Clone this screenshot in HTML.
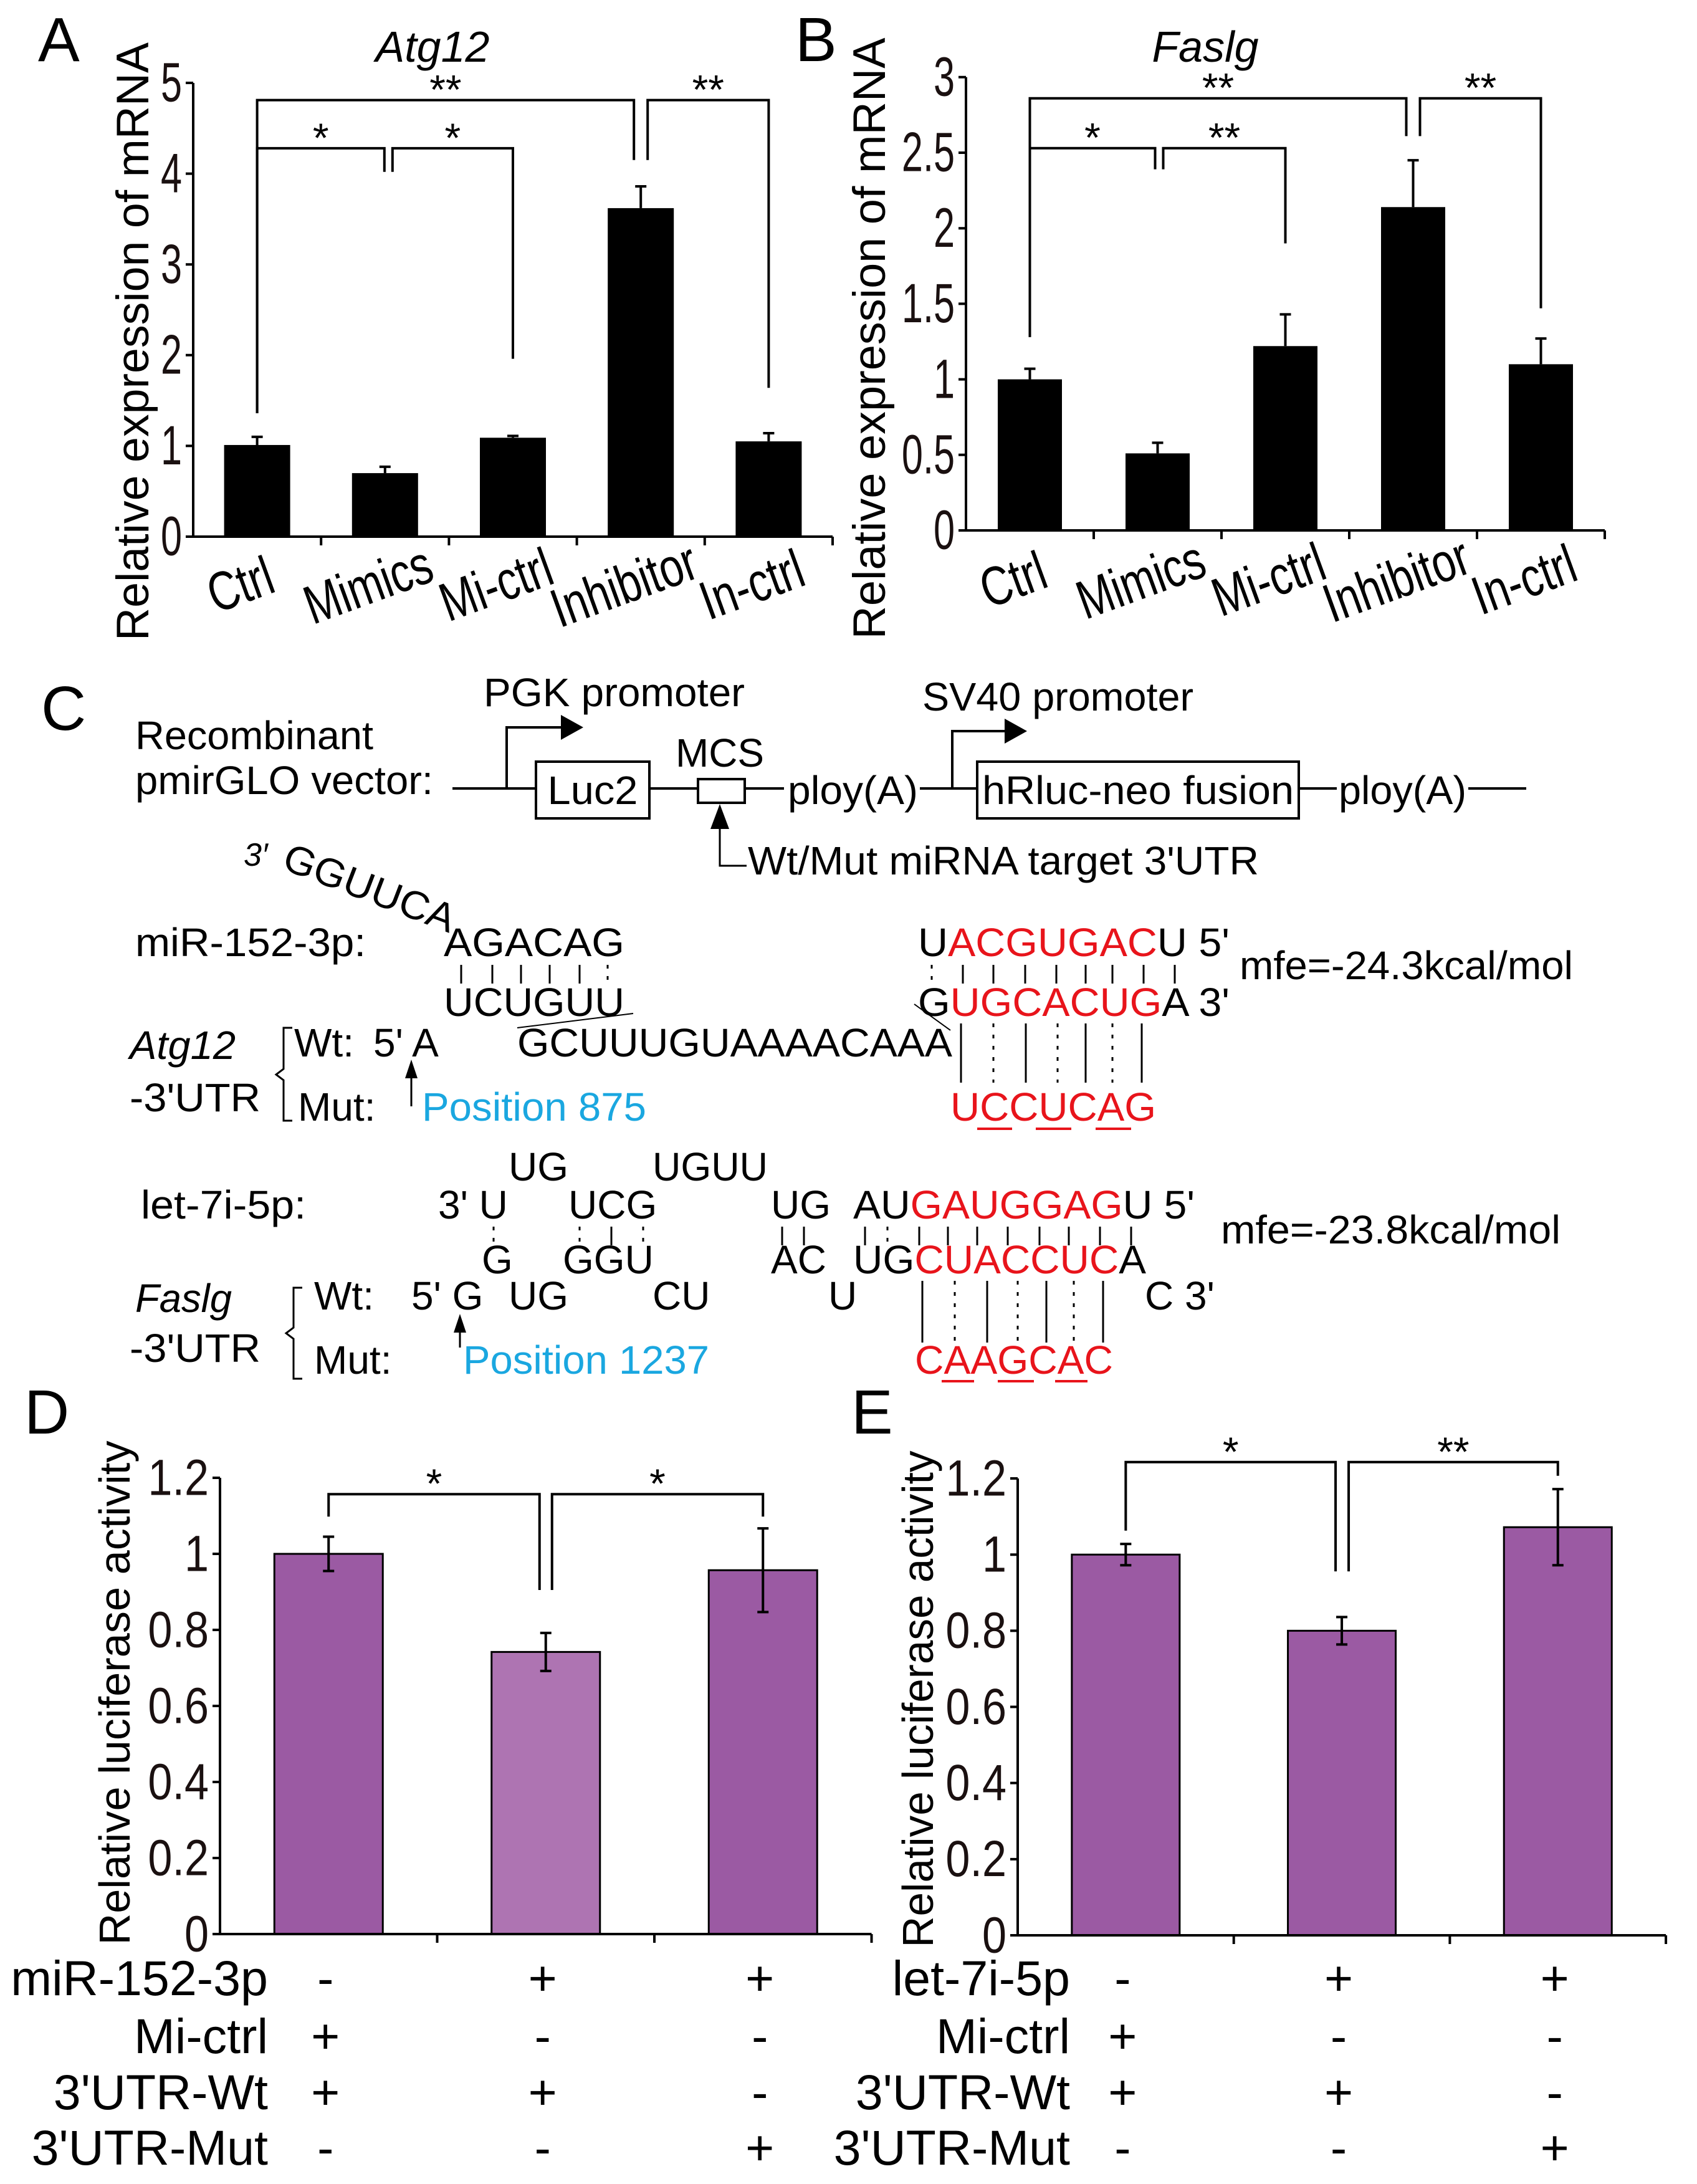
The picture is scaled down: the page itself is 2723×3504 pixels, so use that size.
<!DOCTYPE html>
<html><head><meta charset="utf-8"><style>
html,body{margin:0;padding:0;background:#fff}
svg{display:block;font-family:"Liberation Sans",Arial,sans-serif}
</style></head><body>
<svg id="fig" xmlns="http://www.w3.org/2000/svg" width="2723" height="3504" viewBox="0 0 2723 3504">
<rect width="2723" height="3504" fill="#fff"/>
<text x="61" y="98" font-size="100">A</text>
<text x="1276" y="98" font-size="100">B</text>
<text x="66" y="1171" font-size="100">C</text>
<text x="39" y="2300" font-size="100">D</text>
<text x="1366" y="2300" font-size="100">E</text>
<text x="694" y="99" font-size="70" font-style="italic" text-anchor="middle">Atg12</text>
<text x="1934" y="99" font-size="70" font-style="italic" text-anchor="middle">Faslg</text>
<text transform="translate(238,548) rotate(-90)" font-size="73" text-anchor="middle" textLength="960" lengthAdjust="spacingAndGlyphs">Relative expression of mRNA</text>
<text transform="translate(1420,543) rotate(-90)" font-size="73" text-anchor="middle" textLength="965" lengthAdjust="spacingAndGlyphs">Relative expression of mRNA</text>
<text transform="translate(208,2716) rotate(-90)" font-size="70" text-anchor="middle" textLength="809" lengthAdjust="spacingAndGlyphs">Relative luciferase activity</text>
<text transform="translate(1497,2726) rotate(-90)" font-size="70" text-anchor="middle" textLength="797" lengthAdjust="spacingAndGlyphs">Relative luciferase activity</text>

<g font-size="64" fill="#000">
<text x="217" y="1202" textLength="382" lengthAdjust="spacingAndGlyphs">Recombinant</text>
<text x="217" y="1274" textLength="478" lengthAdjust="spacingAndGlyphs">pmirGLO vector:</text>
<g stroke="#000" stroke-width="4" fill="none">
<path d="M726 1265H860M1042 1265H1120M1195 1265H1258M1476 1265H1568M2084 1265H2145M2356 1265H2449"/>
<rect x="860" y="1222" width="182" height="91"/>
<rect x="1120" y="1250" width="75" height="38"/>
<rect x="1568" y="1222" width="516" height="91"/>
<path d="M813 1265V1167H905"/>
<path d="M1528 1265V1173H1617"/>
<path d="M1155 1320V1389H1198" stroke-width="3"/>
</g>
<polygon points="900,1147 936,1167 900,1187" fill="#000"/>
<polygon points="1612,1153 1648,1173 1612,1193" fill="#000"/>
<polygon points="1155,1290 1140,1330 1170,1330" fill="#000"/>
<text x="776" y="1133" textLength="419" lengthAdjust="spacingAndGlyphs">PGK promoter</text>
<text x="1480" y="1140" textLength="435" lengthAdjust="spacingAndGlyphs">SV40 promoter</text>
<text x="951" y="1290" text-anchor="middle" textLength="145" lengthAdjust="spacingAndGlyphs">Luc2</text>
<text x="1155" y="1230" text-anchor="middle" textLength="142" lengthAdjust="spacingAndGlyphs">MCS</text>
<text x="1264" y="1290" textLength="209" lengthAdjust="spacingAndGlyphs">ploy(A)</text>
<text x="1826" y="1290" text-anchor="middle" textLength="500" lengthAdjust="spacingAndGlyphs">hRluc-neo fusion</text>
<text x="2148" y="1290" textLength="205" lengthAdjust="spacingAndGlyphs">ploy(A)</text>
<text x="1200" y="1403" textLength="820" lengthAdjust="spacingAndGlyphs">Wt/Mut miRNA target 3'UTR</text>
</g>

<g font-size="64">
<text x="391" y="1389" font-style="italic" font-size="52">3′</text>
<text transform="translate(450,1393) rotate(21)" textLength="290" lengthAdjust="spacingAndGlyphs">GGUUCA</text>
<text x="217" y="1534" textLength="370" lengthAdjust="spacingAndGlyphs">miR-152-3p:</text>
<text x="712" y="1534" textLength="290" lengthAdjust="spacingAndGlyphs">AGACAG</text>
<text x="712" y="1630" textLength="290" lengthAdjust="spacingAndGlyphs">UCUGUU</text>
<text x="1473" y="1534" textLength="500" lengthAdjust="spacingAndGlyphs">U<tspan fill="#e8141b">ACGUGAC</tspan>U 5'</text>
<text x="1473" y="1630" textLength="500" lengthAdjust="spacingAndGlyphs">G<tspan fill="#e8141b">UGCACUG</tspan>A 3'</text>
<text x="1989" y="1571" textLength="535" lengthAdjust="spacingAndGlyphs">mfe=-24.3kcal/mol</text>
<g stroke="#000" stroke-width="3">
<path d="M740 1548V1578M790 1548V1578M836 1548V1578M882 1548V1578M930 1548V1578"/>
<path d="M975 1548V1554M975 1566V1572" />
<path d="M1495 1548V1554M1495 1566V1572M1545 1548V1578M1594 1548V1578M1645 1548V1578M1695 1548V1578M1742 1548V1578M1785 1548V1578M1835 1548V1578M1885 1548V1578"/>
<path d="M830 1649L1016 1626M1467 1611L1525 1653" stroke-width="2"/>
<path d="M1542 1642V1737M1646 1642V1737M1742 1642V1737M1832 1642V1737"/>
<path d="M1594 1642V1737M1697 1642V1737M1785 1642V1737" stroke-dasharray="6,12"/>
<path d="M469 1649H455V1715L443 1724L455 1733V1798H469" fill="none"/>
</g>
<polygon points="660,1700 650,1730 670,1730" fill="#000"/>
<path d="M660 1725V1775" stroke="#000" stroke-width="3"/>
<text x="208" y="1699" font-style="italic" textLength="170" lengthAdjust="spacingAndGlyphs">Atg12</text>
<text x="208" y="1783" textLength="210" lengthAdjust="spacingAndGlyphs">-3'UTR</text>
<text x="472" y="1695">Wt:</text>
<text x="599" y="1695">5' A</text>
<text x="830" y="1695" textLength="698" lengthAdjust="spacingAndGlyphs">GCUUUGUAAAACAAA</text>
<text x="478" y="1798">Mut:</text>
<text x="677" y="1798" fill="#1aa7e0" textLength="360" lengthAdjust="spacingAndGlyphs">Position 875</text>
<text x="1525" y="1798" fill="#e8141b" textLength="330" lengthAdjust="spacingAndGlyphs">UCCUCAG</text>
<path d="M1568 1811H1624M1662 1811H1719M1758 1811H1815" stroke="#e8141b" stroke-width="4"/>
</g>

<g font-size="64">
<text x="816" y="1894">UG</text>
<text x="1047" y="1894" textLength="185" lengthAdjust="spacingAndGlyphs">UGUU</text>
<text x="226" y="1955" textLength="265" lengthAdjust="spacingAndGlyphs">let-7i-5p:</text>
<text x="703" y="1955">3' U</text>
<text x="912" y="1955">UCG</text>
<text x="1237" y="1955">UG</text>
<text x="1369" y="1955" textLength="548" lengthAdjust="spacingAndGlyphs">AU<tspan fill="#e8141b">GAUGGAG</tspan>U 5'</text>
<text x="1959" y="1995" textLength="545" lengthAdjust="spacingAndGlyphs">mfe=-23.8kcal/mol</text>
<text x="773" y="2043">G</text>
<text x="903" y="2043">GGU</text>
<text x="1237" y="2043">AC</text>
<text x="1369" y="2043" textLength="470" lengthAdjust="spacingAndGlyphs">UG<tspan fill="#e8141b">CUACCUC</tspan>A</text>
<g stroke="#000" stroke-width="3">
<path d="M792 1968V1974M792 1986V1992M930 1968V1974M930 1986V1992M981 1968V1998M1032 1968V1974M1032 1986V1992"/>
<path d="M1255 1968V1998M1290 1968V1998M1388 1968V1998M1424 1968V1974M1424 1986V1992M1475 1968V1998M1521 1968V1998M1568 1968V1998M1617 1968V1998M1668 1968V1998M1715 1968V1998M1765 1968V1998M1815 1968V1998"/>
<path d="M1480 2055V2154M1584 2055V2154M1679 2055V2154M1770 2055V2154"/>
<path d="M1532 2055V2154M1633 2055V2154M1723 2055V2154" stroke-dasharray="6,12"/>
<path d="M485 2066H471V2130L459 2139L471 2148V2212H485" fill="none"/>
</g>
<polygon points="738,2108 728,2138 748,2138" fill="#000"/>
<path d="M738 2133V2162" stroke="#000" stroke-width="3"/>
<text x="217" y="2105" font-style="italic" textLength="155" lengthAdjust="spacingAndGlyphs">Faslg</text>
<text x="208" y="2185" textLength="210" lengthAdjust="spacingAndGlyphs">-3'UTR</text>
<text x="504" y="2101">Wt:</text>
<text x="660" y="2101">5' G</text>
<text x="816" y="2101">UG</text>
<text x="1047" y="2101">CU</text>
<text x="1329" y="2101">U</text>
<text x="1837" y="2101">C 3'</text>
<text x="504" y="2204">Mut:</text>
<text x="743" y="2204" fill="#1aa7e0" textLength="395" lengthAdjust="spacingAndGlyphs">Position 1237</text>
<text x="1468" y="2204" fill="#e8141b" textLength="318" lengthAdjust="spacingAndGlyphs">CAAGCAC</text>
<path d="M1511 2216H1563M1601 2216H1659M1693 2216H1745" stroke="#e8141b" stroke-width="4"/>
</g>

<g id="charts"></g>
</svg>
<script>
const categoriesAB = ["Ctrl","Mimics","Mi-ctrl","Inhibitor","In-ctrl"];
const valuesA = [1.01, 0.70, 1.09, 3.62, 1.05];
const errorsA = [0.09, 0.07, 0.02, 0.24, 0.09];
const ticksA = [0,1,2,3,4,5];
const tickLabelsA = ["0","1","2","3","4","5"];
const valuesB = [1.00, 0.51, 1.22, 2.14, 1.10];
const errorsB = [0.07, 0.07, 0.21, 0.31, 0.17];
const ticksB = [0,0.5,1,1.5,2,2.5,3];
const tickLabelsB = ["0","0.5","1","1.5","2","2.5","3"];
const valuesD = [1.00, 0.742, 0.957];
const errorsD = [0.045, 0.05, 0.11];
const valuesE = [1.00, 0.80, 1.072];
const errorsE = [0.028, 0.036, 0.10];
const ticksDE = [0,0.2,0.4,0.6,0.8,1,1.2];
const tickLabelsDE = ["0","0.2","0.4","0.6","0.8","1","1.2"];
const rowLabelsD = ["miR-152-3p","Mi-ctrl","3'UTR-Wt","3'UTR-Mut"];
const rowLabelsE = ["let-7i-5p","Mi-ctrl","3'UTR-Wt","3'UTR-Mut"];
const rowMarks = [["-","+","+"],["+","-","-"],["+","+","-"],["-","-","+"]];
const bracketsA = [[0,1.36,3,4.15,4.81,"**",0,-11],[3,4.15,4,1.64,4.81,"**",11,0],[0,1.36,1,4.02,4.28,"*",0,-1],[1,4.02,2,1.96,4.28,"*",12,0]];
const bracketsB = [[0,1.28,3,2.61,2.86,"**",0,-11],[3,2.61,4,1.47,2.86,"**",11,0],[0,1.28,1,2.39,2.53,"*",0,-4],[1,2.39,2,1.90,2.53,"**",9,0]];
const bracketsD = [[0,1.098,1,0.905,1.157,"*",0,-10],[1,0.905,2,1.098,1.157,"*",10,0]];
const bracketsE = [[0,1.063,1,0.956,1.243,"*",0,-10],[1,0.956,2,1.207,1.243,"**",11,0]];

const NS = "http://www.w3.org/2000/svg";
const root = document.getElementById("charts");
function mk(tag, attrs, parent, txt){
  const e = document.createElementNS(NS, tag);
  for (const k in attrs) e.setAttribute(k, attrs[k]);
  if (txt !== undefined) e.textContent = txt;
  parent.appendChild(e);
  return e;
}

function drawChart(id, cfg){
  const g = mk("g", {}, root);
  
  
  const yv = v => cfg.zero - v * cfg.unit;
  const xc = i => cfg.x0 + (i + 0.5) * cfg.step;
  const n = cfg.values.length;
  const xEnd = cfg.x0 + n * cfg.step;
  cfg.values.forEach((v, i) => {
    const r = mk("rect", {x: xc(i) - cfg.barW/2, y: yv(v), width: cfg.barW, height: cfg.zero - yv(v),
      fill: cfg.colors[i], stroke: cfg.outline ? "#000" : "none", "stroke-width": cfg.outline ? 3 : 0}, g);
    
    
    const e = cfg.errors[i];
    const lo = cfg.both ? yv(v - e) : yv(v);
    const eb = mk("path", {d: `M${xc(i)} ${yv(v+e)}V${lo}M${xc(i)-9} ${yv(v+e)}H${xc(i)+9}` + (cfg.both ? `M${xc(i)-9} ${lo}H${xc(i)+9}` : ""),
      stroke: "#000", "stroke-width": 4, fill: "none"}, g);
    
    
  });
  const ax = mk("path", {d: `M${cfg.x0} ${yv(cfg.ticks[cfg.ticks.length-1])}V${cfg.zero}H${xEnd}`, stroke: "#000", "stroke-width": 4, fill: "none"}, g);
  
  
  let tk = "";
  cfg.ticks.forEach(t => { tk += `M${cfg.x0-12} ${yv(t)}H${cfg.x0}`; });
  for (let i = 1; i <= n; i++) tk += `M${cfg.x0 + i*cfg.step} ${cfg.zero}V${cfg.zero+14}`;
  const tm = mk("path", {d: tk, stroke: "#000", "stroke-width": 4}, g);
  
  
  cfg.ticks.forEach((t, i) => {
    const tl = mk("text", {transform: `translate(${cfg.x0 - 18},${yv(t)}) scale(${cfg.tickSX},1.05)`, "font-size": cfg.tickFont, "text-anchor": "end", "dominant-baseline": "central", fill: "#1a1010"}, g, cfg.tickLabels[i]);
    
    
  });
  if (cfg.categories){
    cfg.categories.forEach((c, i) => {
      const t = mk("text", {transform: `translate(${xc(i)-27},${cfg.catY}) rotate(-20) scale(0.85,1.1)`, "font-size": 80, "text-anchor": "middle", "dominant-baseline": "central"}, g, c);
      
      
    });
  }
  cfg.brackets.forEach(b => {
    const x1 = xc(b[0]) + b[6], x2 = xc(b[2]) + b[7], yt = yv(b[4]);
    const p = mk("path", {d: `M${x1} ${yv(b[1])}V${yt}H${x2}V${yv(b[3])}`, stroke: "#000", "stroke-width": 4, fill: "none"}, g);
    
    
    const s = mk("text", {x: (x1+x2)/2, y: yt + 6, "font-size": 66, "text-anchor": "middle"}, g, b[5]);
    
    
  });
  if (cfg.rows){
    const rowY = [3201, 3294, 3384, 3473];
    cfg.rows.forEach((r, ri) => {
      const t = mk("text", {x: cfg.rowLabelX, y: rowY[ri], "font-size": 79, "text-anchor": "end"}, g, r);
      
      
      rowMarks[ri].forEach((m, ci) => {
        const mt = mk("text", {x: xc(ci) - 5, y: rowY[ri], "font-size": 79, "text-anchor": "middle"}, g, m);
        
        
      });
    });
  }
}

drawChart("chart-a", {x0:310, zero:861, unit:145.6, step:205.2, barW:106, values:valuesA, errors:errorsA, ticks:ticksA, tickLabels:tickLabelsA,
  tickFont:85, tickSX:0.72, colors:Array(5).fill("#000"), outline:false, both:false, categories:categoriesAB, catY:938, brackets:bracketsA});
drawChart("chart-b", {x0:1550, zero:851, unit:242.4, step:205, barW:103, values:valuesB, errors:errorsB, ticks:ticksB, tickLabels:tickLabelsB,
  tickFont:85, tickSX:0.72, colors:Array(5).fill("#000"), outline:false, both:false, categories:categoriesAB, catY:930, brackets:bracketsB});
drawChart("chart-d", {x0:353, zero:3103, unit:610, step:348.5, barW:174, values:valuesD, errors:errorsD, ticks:ticksDE, tickLabels:tickLabelsDE,
  tickFont:78, tickSX:0.9, colors:["#9b5aa3","#ae74b2","#9b5aa3"], outline:true, both:true, brackets:bracketsD, rows:rowLabelsD, rowLabelX:430});
drawChart("chart-e", {x0:1633, zero:3105, unit:610.8, step:346.7, barW:173, values:valuesE, errors:errorsE, ticks:ticksDE, tickLabels:tickLabelsDE,
  tickFont:78, tickSX:0.9, colors:["#9b5aa3","#9b5aa3","#9b5aa3"], outline:true, both:true, brackets:bracketsE, rows:rowLabelsE, rowLabelX:1717});
</script>
</body></html>
